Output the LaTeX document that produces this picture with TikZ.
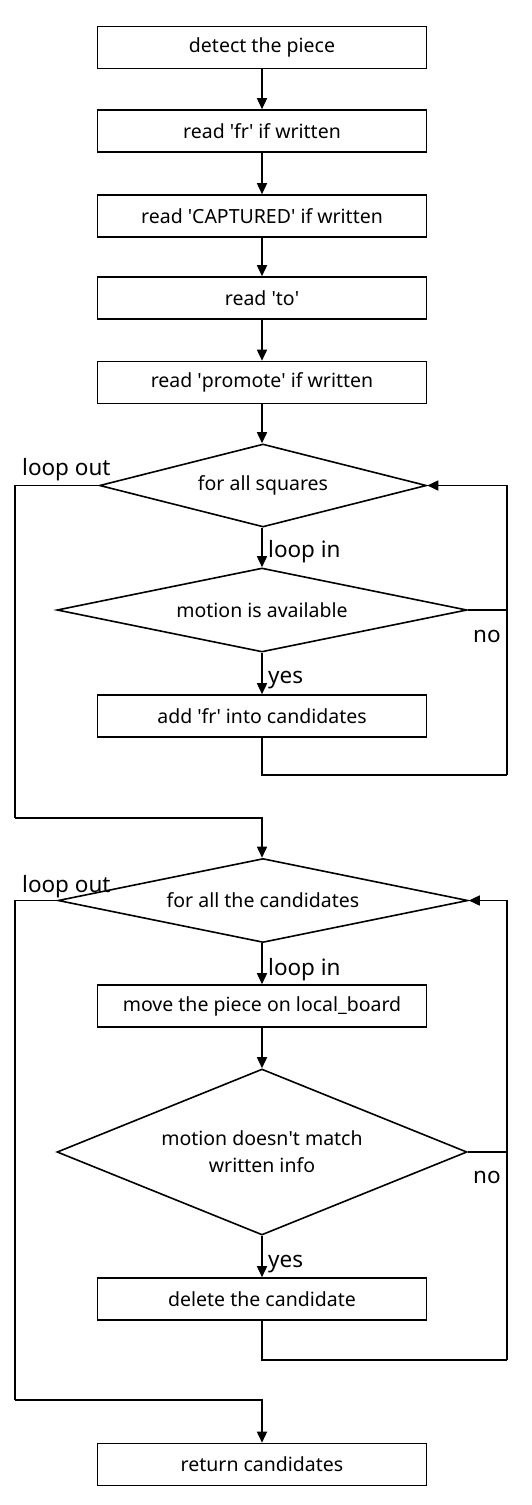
\documentclass[tikz,border=0pt]{standalone}
\usepackage{fontspec}
\setmainfont{Noto Sans}
\usetikzlibrary{shapes.geometric,arrows.meta}
\begin{document}
\begin{tikzpicture}
[every node/.style={inner sep=0pt},
 proc/.style={rectangle, minimum width=329pt, minimum height=42pt, line width=1.6pt, draw=black, font=\fontsize{19.5}{23}\selectfont},
 cond/.style={diamond, minimum width=410pt, minimum height=84pt, aspect=4.9, line width=1.6pt, draw=black, align=center, font=\fontsize{19.5}{27}\selectfont},
 lbl/.style={anchor=base west, font=\fontsize{22.5}{27}\selectfont},
 flow/.style={line width=1.6pt, -{Triangle[width=10pt,length=11pt]}, color=black},
 wire/.style={line width=1.6pt, color=black}]
\useasboundingbox (0pt,0pt) rectangle (531pt,-1505pt);
\node (detect) [proc] at (262pt, -47.5pt) {detect the piece};
\node (fr) [proc] at (262pt, -131pt) {read \textquotesingle fr\textquotesingle{} if written};
\node (cap) [proc] at (262pt, -216pt) {read \textquotesingle CAPTURED\textquotesingle{} if written};
\node (to) [proc] at (262pt, -298pt) {read \textquotesingle to\textquotesingle};
\node (prom) [proc] at (262pt, -382.5pt) {read \textquotesingle promote\textquotesingle{} if written};
\node (sq) [cond, minimum width=327pt, minimum height=83pt, aspect=3.9] at (263pt, -485.5pt) {for all squares};
\node (avail) [cond] at (262pt, -610pt) {motion is available};
\node (add) [proc] at (262pt, -716pt) {add \textquotesingle fr\textquotesingle{} into candidates};
\node (cand) [cond] at (263pt, -900.5pt) {for all the candidates};
\node (move) [proc] at (262pt, -1006pt) {move the piece on local\_board};
\node (match) [cond, minimum height=166pt, aspect=2.47] at (262pt, -1152pt) {motion doesn\textquotesingle t match\\written info};
\node (del) [proc] at (262pt, -1299pt) {delete the candidate};
\node (ret) [proc] at (262pt, -1464.5pt) {return candidates};
\coordinate (lo1) at (15pt, -818pt);
\coordinate (lb1) at (507pt, -775pt);
\coordinate (lo2) at (15pt, -1400pt);
\coordinate (lb2) at (507pt, -1360pt);
\node (out1) [lbl] at (22pt, -475pt) {loop out};
\node (in1) [lbl] at (268pt, -557pt) {loop in};
\node (no1) [lbl] at (473pt, -642pt) {no};
\node (yes1) [lbl] at (268pt, -683pt) {yes};
\node (out2) [lbl] at (22pt, -892pt) {loop out};
\node (in2) [lbl] at (268pt, -975pt) {loop in};
\node (no2) [lbl] at (473pt, -1183pt) {no};
\node (yes2) [lbl] at (268pt, -1267pt) {yes};
\draw [flow] (detect) to (fr);
\draw [flow] (fr) to (cap);
\draw [flow] (cap) to (to);
\draw [flow] (to) to (prom);
\draw [flow] (prom) to (prom |- sq.north);
\draw [flow] (sq.south -| avail) to (avail.north);
\draw [flow] (avail) to (add);
\draw [wire] (add.south) |- (lb1);
\draw [flow] (lb1) |- (sq.east);
\draw [wire] (avail.east) -- (avail.east -| lb1);
\draw [wire] (sq.west) -| (lo1);
\draw [flow] (lo1) -| (cand.north -| avail);
\draw [flow] (cand.south -| move) to (move.north);
\draw [flow] (move) to (match);
\draw [flow] (match) to (del);
\draw [wire] (del.south) |- (lb2);
\draw [flow] (lb2) |- (cand.east);
\draw [wire] (match.east) -- (match.east -| lb2);
\draw [wire] (cand.west) -| (lo2);
\draw [flow] (lo2) -| (ret.north);

\end{tikzpicture}
\end{document}
